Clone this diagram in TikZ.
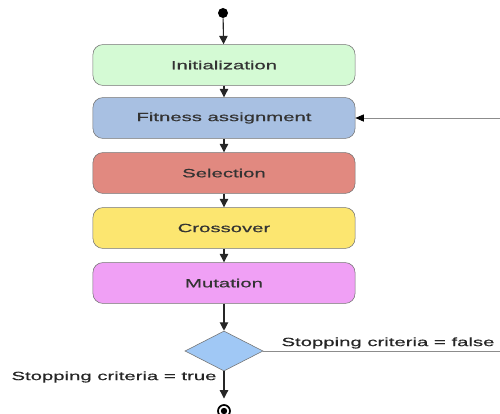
\documentclass[tikz,border=0pt]{standalone}
\usepackage{fontspec}
\setmainfont{Liberation Sans}
\newfontfamily\widefont[FakeStretch=1.7, FakeBold=0.6]{Liberation Sans}
\usetikzlibrary{shapes.geometric, arrows.meta}

\definecolor{initgreen}{RGB}{212,250,212}
\definecolor{fitblue}{RGB}{168,192,226}
\definecolor{selred}{RGB}{225,137,128}
\definecolor{crossyellow}{RGB}{252,230,112}
\definecolor{mutpink}{RGB}{240,160,245}
\definecolor{testblue}{RGB}{160,200,245}

\begin{document}
\begin{tikzpicture}[x=0.025cm, y=-0.025cm,
    stage/.style={draw=black!55, rounded corners=7pt, minimum width=6.55cm,
        minimum height=1.02cm, text=black!80,
        font=\widefont\fontsize{8.5}{10}\selectfont},
    flow/.style={-{Triangle[length=6pt,width=6pt]}, black!85, line width=0.8pt},
    back/.style={-{Triangle[length=6pt,width=5pt,fill=black,color=black]}, black!45, line width=0.5pt},
    label/.style={text=black!85, font=\widefont\fontsize{8.5}{10}\selectfont}]
    \useasboundingbox (0, 0) rectangle (500, 414);

    \node [circle, fill=black, inner sep=0, minimum size=0.25cm] (start) at (223, 13) {};

    \node [stage, fill=initgreen]   (init)    at (224, 65)  {Initialization};
    \node [stage, fill=fitblue]     (fitness) at (224, 118) {Fitness assignment};
    \node [stage, fill=selred]      (select)  at (224, 173) {Selection};
    \node [stage, fill=crossyellow] (cross)   at (224, 228) {Crossover};
    \node [stage, fill=mutpink]     (mutate)  at (224, 283) {Mutation};

    \node [diamond, draw=black!55, fill=testblue, inner sep=0, aspect=1.95,
        minimum width=1.95cm, minimum height=1cm] (test) at (224, 351) {};

    \node [circle, draw=black, line width=1.2pt, fill=white, inner sep=0,
        minimum size=0.3cm] (finish) at (224, 411) {};
    \fill (finish.center) circle (0.08cm);

    \draw [flow] (start) -- (init);
    \draw [flow] (init) -- (fitness);
    \draw [flow] (fitness) -- (select);
    \draw [flow] (select) -- (cross);
    \draw [flow] (cross) -- (mutate);
    \draw [flow] (mutate) -- (test);
    \draw [flow, shorten >=4pt] (test) -- (finish);

    % loop back, runs past the right edge
    \coordinate (loopA) at (503, 351);
    \coordinate (loopB) at (503, 118);
    \draw [back] (test.east) -- (loopA) -- (loopB) -- (fitness.east);

    \node [label] (falselbl) at (388, 343) {Stopping criteria = false};
    \node [label] (truelbl)  at (114, 377) {Stopping criteria = true};
\end{tikzpicture}
\end{document}
